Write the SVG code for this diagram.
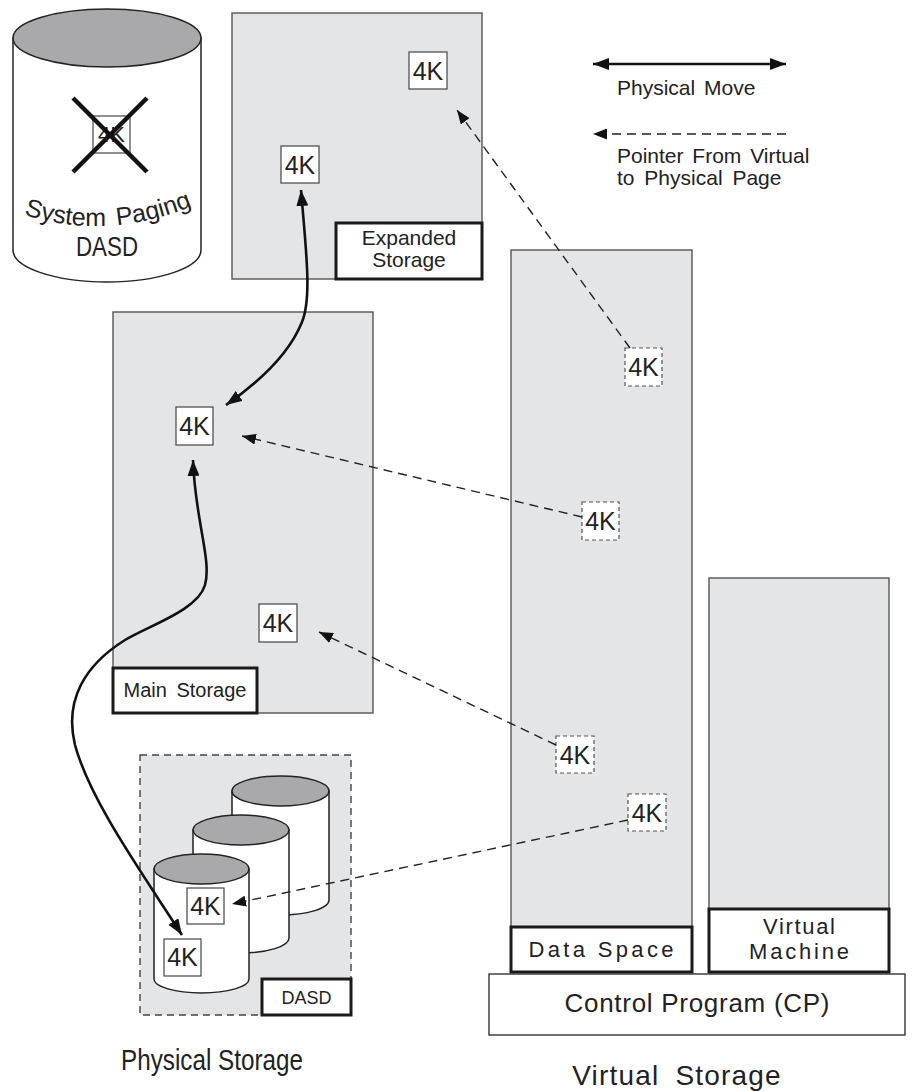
<svg xmlns="http://www.w3.org/2000/svg" width="913" height="1091" viewBox="0 0 913 1091">
<style>
text{font-family:"Liberation Sans",Arial,sans-serif;fill:#222}
.panel{fill:#e4e5e7;stroke:#555;stroke-width:1.4}
.lbl{fill:#fff;stroke:#1a1a1a;stroke-width:3}
.page{fill:#fff;stroke:#444;stroke-width:1.2}
.vpage{fill:#fff;stroke:#555;stroke-width:1.2;stroke-dasharray:4 3}
.pg{font-size:25px;text-anchor:middle}
.cylb{fill:#fff;stroke:#222;stroke-width:1.5}
.cylt{fill:#a9a9ab;stroke:#222;stroke-width:1.5}
.move{fill:none;stroke:#111;stroke-width:2.6}
.ptr{fill:none;stroke:#222;stroke-width:1.4;stroke-dasharray:9 6}
.mid{text-anchor:middle}
</style>
<defs>
<marker id="ah" viewBox="0 0 16 12" refX="16" refY="6" markerWidth="16" markerHeight="12" markerUnits="userSpaceOnUse" orient="auto-start-reverse"><path d="M0,0 L16,6 L0,12 Z" fill="#111"/></marker>
<marker id="ahs" viewBox="0 0 14 11" refX="14" refY="5.5" markerWidth="14" markerHeight="11" markerUnits="userSpaceOnUse" orient="auto-start-reverse"><path d="M0,0 L14,5.5 L0,11 Z" fill="#111"/></marker>
</defs>

<g id="system-paging-dasd">
<path class="cylb" d="M13,38 L13,250 A94,32 0 0,0 201,250 L201,38 Z"/>
<ellipse class="cylt" cx="107" cy="38" rx="94" ry="29"/>
<rect class="page" x="93" y="116" width="37" height="37" stroke-width="1"/>
<text x="111.5" y="142" font-size="22" text-anchor="middle">4K</text>
<path d="M73,98 L147,172 M147,98 L73,172" stroke="#111" stroke-width="4.5"/>
<path id="arcp" d="M16,212 Q105,244 200,203" fill="none"/>
<text font-size="25" word-spacing="4"><textPath href="#arcp" startOffset="50%" text-anchor="middle">System Paging</textPath></text>
<text x="107" y="256" font-size="27" class="mid" textLength="62" lengthAdjust="spacingAndGlyphs">DASD</text>
</g>

<g id="expanded-storage">
<rect class="panel" x="232" y="13" width="250" height="266"/>
<rect class="page" x="409" y="52" width="38" height="37"/>
<text class="pg" x="428" y="79.5">4K</text>
<rect class="page" x="281" y="146" width="38" height="37"/>
<text class="pg" x="300" y="173.5">4K</text>
<rect class="lbl" x="336" y="223" width="146" height="56"/>
<text x="409" y="245" font-size="21" class="mid">Expanded</text>
<text x="409" y="267" font-size="21" class="mid">Storage</text>
</g>

<g id="legend">
<path class="move" d="M593,64 L786,64" marker-start="url(#ah)" marker-end="url(#ah)"/>
<text x="617" y="95" font-size="21" word-spacing="3">Physical Move</text>
<path class="ptr" d="M786,134 L593,134" marker-end="url(#ahs)"/>
<text x="617" y="163" font-size="21" word-spacing="3">Pointer From Virtual</text>
<text x="617" y="185" font-size="21" word-spacing="4">to Physical Page</text>
</g>

<g id="main-storage">
<rect class="panel" x="113" y="312" width="260" height="401"/>
<rect class="page" x="176" y="407" width="37" height="38"/>
<text class="pg" x="194.5" y="435">4K</text>
<rect class="page" x="259" y="604" width="38" height="38"/>
<text class="pg" x="278" y="632">4K</text>
<rect class="lbl" x="113" y="668" width="144" height="45"/>
<text x="185" y="697" font-size="20" class="mid" word-spacing="4">Main Storage</text>
</g>

<g id="dasd">
<rect x="140" y="755" width="211" height="260" fill="#e4e5e7" stroke="#444" stroke-width="1.4" stroke-dasharray="7 5"/>
<path class="cylb" d="M232,791 L232,900 A48.5,15 0 0,0 329,900 L329,791 Z"/>
<ellipse class="cylt" cx="280.5" cy="791" rx="48.5" ry="15"/>
<path class="cylb" d="M193,830 L193,938 A48,15 0 0,0 289,938 L289,830 Z"/>
<ellipse class="cylt" cx="241" cy="830" rx="48" ry="15"/>
<path class="cylb" d="M154,869 L154,979 A47.5,14 0 0,0 249,979 L249,869 Z"/>
<ellipse class="cylt" cx="201.5" cy="869" rx="47.5" ry="15"/>
<rect class="page" x="187" y="888" width="37" height="36"/>
<text class="pg" x="205.5" y="915">4K</text>
<rect class="page" x="164" y="939" width="37" height="37"/>
<text class="pg" x="182.5" y="966">4K</text>
<rect class="lbl" x="262" y="979" width="89" height="36"/>
<text x="306.5" y="1004" font-size="18" class="mid">DASD</text>
</g>

<g id="data-space">
<rect class="panel" x="511" y="250" width="181" height="722"/>
<rect class="vpage" x="625" y="348" width="37" height="38"/>
<text class="pg" x="643.5" y="376">4K</text>
<rect class="vpage" x="582" y="502" width="37" height="38"/>
<text class="pg" x="600.5" y="530">4K</text>
<rect class="vpage" x="556" y="736" width="38" height="37"/>
<text class="pg" x="575" y="763.5">4K</text>
<rect class="vpage" x="628" y="794" width="38" height="37"/>
<text class="pg" x="647" y="821.5">4K</text>
<rect class="lbl" x="511" y="927" width="181" height="45"/>
<text x="601" y="957" font-size="22" class="mid" textLength="145">Data  Space</text>
</g>

<g id="virtual-machine">
<rect class="panel" x="709" y="578" width="180" height="394"/>
<rect class="lbl" x="709" y="909" width="180" height="63"/>
<text x="799" y="934" font-size="22" class="mid" textLength="72">Virtual</text>
<text x="799" y="959" font-size="22" class="mid" textLength="100">Machine</text>
</g>

<g id="control-program">
<rect x="489" y="974" width="416" height="61" fill="#fff" stroke="#333" stroke-width="1.4"/>
<text x="697" y="1012" font-size="26" class="mid" textLength="265">Control Program (CP)</text>
</g>

<g id="titles">
<text x="212" y="1070" font-size="29" class="mid" textLength="182" lengthAdjust="spacingAndGlyphs">Physical Storage</text>
<text x="677" y="1085" font-size="28" class="mid" word-spacing="7" letter-spacing="1.2">Virtual Storage</text>
</g>

<g id="connectors">
<path class="move" d="M301,190 C306,250 312,298 302,322 C290,352 262,380 226,405" marker-start="url(#ah)" marker-end="url(#ah)"/>
<path class="move" d="M193,460 C195,520 212,560 205,585 C198,610 150,625 125,640 C85,665 64,700 75,745 C90,800 140,870 182,935" marker-start="url(#ah)" marker-end="url(#ah)"/>
<path class="ptr" d="M630,348 L457,110" marker-end="url(#ahs)"/>
<path class="ptr" d="M582,517 L242,436" marker-end="url(#ahs)"/>
<path class="ptr" d="M556,745 L319,632" marker-end="url(#ahs)"/>
<path class="ptr" d="M628,820 L232,904" marker-end="url(#ahs)"/>
</g>
</svg>
